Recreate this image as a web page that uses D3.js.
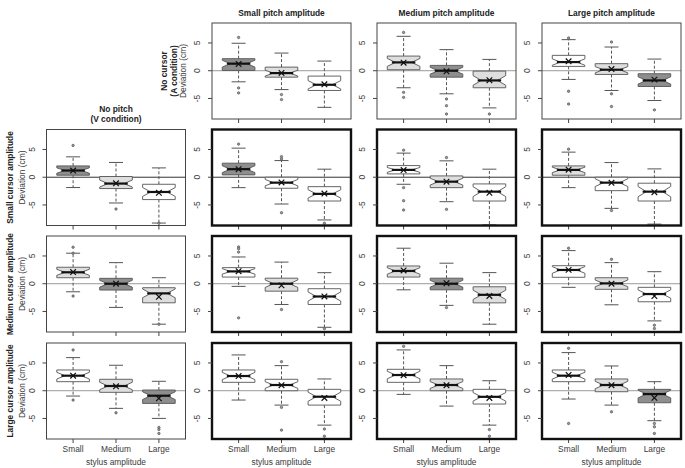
<!DOCTYPE html>
<html><head><meta charset="utf-8">
<script src="https://cdn.jsdelivr.net/npm/d3@7"></script>
<style>body{margin:0;background:#fff}svg{display:block;font-family:"Liberation Sans",Arial,sans-serif}</style>
</head><body><svg id="c" width="685" height="468"></svg>
<script>
// ---- data ----
const stylusLevels = ["Small", "Medium", "Large"];
const pitchTitles = ["Small pitch amplitude", "Medium pitch amplitude", "Large pitch amplitude"];
const cursorTitles = ["Small cursor amplitude", "Medium cursor amplitude", "Large cursor amplitude"];
const yTicks = [-5, 0, 5];
const nObs = 30;
// panel grid positions (row, column) for 15 panels
const panelRow = [0,0,0, 1,1,1,1, 2,2,2,2, 3,3,3,3];
const panelCol = [1,2,3, 0,1,2,3, 0,1,2,3, 0,1,2,3];
const whiskerLow = [
  [-2.0,-3.4,-6.6],[-3.07,-4.16,-6.7],[-1.57,-3.56,-5.37],
  [-1.86,-4.64,-8.26],[-1.88,-4.83,-7.7],[-1.27,-4.41,-8.6],[-1.88,-5.61,-8.45],
  [-1.45,-4.27,-7.29],[-0.48,-3.74,-7.85],[-1.1,-3.9,-7.3],[-0.65,-3.8,-6.7],
  [-0.96,-3.18,-4.99],[-1.68,-2.59,-6.2],[-0.66,-2.77,-6.2],[-1.5,-2.59,-5.4]];
const q1 = [
  [0.05,-1.16,-3.56],[0.18,-1.16,-3.07],[0.78,-0.67,-2.84],
  [0.36,-2.04,-4.03],[0.42,-1.99,-4.29],[0.6,-1.88,-4.29],[0.36,-2.42,-4.29],
  [1.08,-1.14,-3.44],[1.2,-1.34,-3.74],[1.2,-1.1,-3.45],[1.16,-1.01,-3.25],
  [1.63,-0.29,-2.28],[1.51,0,-2.59],[1.51,0,-2.4],[1.63,-0.18,-2.17]];
const median = [
  [1.27,-0.43,-2.53],[1.5,0,-1.75],[1.56,0.18,-1.75],
  [1.21,-1.14,-2.66],[1.45,-0.98,-3.0],[1.32,-0.8,-2.6],[1.32,-0.98,-2.6],
  [2.06,0,-1.74],[2.22,0,-2.3],[2.3,0,-2.0],[2.48,0.06,-1.86],
  [2.71,0.85,-0.9],[2.65,1.03,-1.08],[2.83,1.03,-1.1],[2.71,1.03,-0.6]];
const q3 = [
  [2.17,0.65,-0.97],[2.64,0.96,-0.07],[2.77,1.27,-0.54],
  [2.04,0.13,-1.27],[2.53,0,-1.7],[2.1,0.24,-1.21],[2.04,0,-1.08],
  [2.97,0.97,-0.72],[2.9,1.0,-0.9],[3.2,1.0,-0.55],[3.25,1.08,-0.65],
  [3.74,2.06,0.13],[3.74,2.06,0.25],[3.86,2.12,0.25],[3.74,2.12,0.25]];
const whiskerHigh = [
  [4.95,3.18,1.74],[6.2,3.8,2.04],[5.6,4.27,2.1],
  [3.67,2.66,1.68],[5.24,3.0,1.45],[4.34,2.95,1.45],[4.52,2.64,1.5],
  [5.5,3.8,1.08],[4.82,3.9,1.99],[6.4,3.7,2.0],[5.97,3.8,2.17],
  [5.97,4.59,1.7],[6.45,4.52,2.12],[7.35,4.52,1.8],[6.87,4.46,1.63]];
const means = [
  [1.2,-0.4,-2.45],[1.45,-0.1,-1.7],[1.7,0.3,-1.6],
  [1.2,-1.1,-2.8],[1.45,-0.95,-2.95],[1.3,-0.8,-2.8],[1.35,-1.0,-2.7],
  [2.1,0,-2.35],[2.25,-0.3,-2.3],[2.4,0.1,-2.2],[2.5,0,-2.22],
  [2.7,0.8,-1.37],[2.65,1.0,-1.3],[2.8,1.0,-1.3],[2.85,1.0,-1.27]];
const outliers = [
  [[6.0,-3.1,-4.0],[-4.3,-5.2],[]],
  [[6.9,-3.9,-4.8],[-5.1,-6.3,-7.8],[-7.8]],
  [[5.9,-3.7,-6.0],[5.17,-4.16,-6.46],[-7.06]],
  [[5.73],[-5.73],[-8.3]],
  [[5.97],[3.72,3.3,-6.4],[-8.3]],
  [[4.88,-1.88,-4.23,-5.91],[3.55,-5.79],[]],
  [[5.06],[-6.0],[]],
  [[6.58,5.5,-2.22],[],[-7.3]],
  [[6.63,6.3,5.7,-6.15],[-4.65],[-8.1]],
  [[],[-4.3],[]],
  [[6.4],[4.4],[-7.47,-8.07]],
  [[7.35,-1.68],[-3.98],[-6.62,-6.98,-7.7]],
  [[],[5.24,-3.0,-7.1],[-6.9,-8.2]],
  [[8.0],[],[-7.0,-8.2]],
  [[7.65,-5.9],[-3.8],[-5.9,-6.5,-7.7]]];
// fill level: 0 white, 1 light grey, 2 dark grey
const fillLevel = [
  [2,1,0],[1,2,1],[0,1,2],
  [2,1,0],[2,0,0],[0,1,0],[1,0,0],
  [1,2,1],[0,1,0],[1,2,1],[0,1,0],
  [0,1,2],[0,0,0],[0,1,0],[0,1,2]];

// ---- layout ----
const fillColors = ["#ffffff", "#dedede", "#8e8e8e"];
const colLeft = [46.5, 212, 377, 542];
const rowTop = [23, 129.5, 236, 343];
const pw = 139, ph = 96;
const svg = d3.select("#c");
const textCol = "#3a3a3a";

panelRow.forEach((r, p) => {
  const c = panelCol[p];
  const L = colLeft[c], T = rowTop[r];
  const x = d3.scaleLinear().domain([0.38, 3.62]).range([L, L + pw]);
  const y = d3.scaleLinear().domain([-8.7, 8.6]).range([T + ph, T]);
  const g = svg.append("g");
  const inner = r > 0 && c > 0;

  g.append("line").attr("x1", L).attr("x2", L + pw).attr("y1", y(0)).attr("y2", y(0))
    .attr("stroke", r === 1 ? "#333" : "#999").attr("stroke-width", 1);

  const hw = x(1.38) - x(1);
  [0,1,2].forEach(i => {
    const cx = x(i + 1);
    const lo = q1[p][i], hi = q3[p][i], md = median[p][i];
    const nh = 1.58 * (hi - lo) / Math.sqrt(nObs);
    const nLo = Math.max(lo, md - nh), nHi = Math.min(hi, md + nh);
    g.append("line").attr("x1", cx).attr("x2", cx).attr("y1", y(hi)).attr("y2", y(whiskerHigh[p][i]))
      .attr("stroke", "#555").attr("stroke-dasharray", "3,2");
    g.append("line").attr("x1", cx).attr("x2", cx).attr("y1", y(lo)).attr("y2", y(whiskerLow[p][i]))
      .attr("stroke", "#555").attr("stroke-dasharray", "3,2");
    [whiskerHigh[p][i], whiskerLow[p][i]].forEach(v => {
      g.append("line").attr("x1", cx - 7).attr("x2", cx + 7).attr("y1", y(v)).attr("y2", y(v))
        .attr("stroke", "#555");
    });
    const pts = [
      [cx - hw, y(lo)], [cx + hw, y(lo)], [cx + hw, y(nLo)], [cx + hw / 2, y(md)], [cx + hw, y(nHi)],
      [cx + hw, y(hi)], [cx - hw, y(hi)], [cx - hw, y(nHi)], [cx - hw / 2, y(md)], [cx - hw, y(nLo)]];
    g.append("path").attr("d", d3.line()(pts) + "Z")
      .attr("fill", fillColors[fillLevel[p][i]]).attr("stroke", "#555").attr("stroke-width", 0.9);
    g.append("line").attr("x1", cx - hw * 0.72).attr("x2", cx + hw * 0.72).attr("y1", y(md)).attr("y2", y(md))
      .attr("stroke", "#111").attr("stroke-width", 2.2);
    const my = y(means[p][i]), s = 2.8;
    g.append("path").attr("d", `M${cx - s},${my - s}L${cx + s},${my + s}M${cx - s},${my + s}L${cx + s},${my - s}`)
      .attr("stroke", "#111").attr("stroke-width", 1.2).attr("fill", "none");
    outliers[p][i].forEach(v => {
      g.append("circle").attr("cx", cx).attr("cy", y(v)).attr("r", 1.2)
        .attr("fill", "#999").attr("stroke", "#555").attr("stroke-width", 0.7);
    });
    g.append("line").attr("x1", cx).attr("x2", cx).attr("y1", T + ph).attr("y2", T + ph + 4)
      .attr("stroke", "#444");
  });

  g.append("rect").attr("x", L).attr("y", T).attr("width", pw).attr("height", ph)
    .attr("fill", "none").attr("stroke", inner ? "#111" : "#444").attr("stroke-width", inner ? 2.4 : 1);

  yTicks.forEach(t => {
    g.append("line").attr("x1", L - 4).attr("x2", L).attr("y1", y(t)).attr("y2", y(t)).attr("stroke", "#444");
    g.append("text").attr("transform", `translate(${L - 12},${y(t)}) rotate(-90)`)
      .attr("text-anchor", "middle").attr("font-size", 8.5).attr("fill", textCol).text(t);
  });

  if (r === 3) {
    stylusLevels.forEach((s, i) => {
      g.append("text").attr("x", x(i + 1)).attr("y", T + ph + 13).attr("text-anchor", "middle")
        .attr("font-size", 8.4).attr("fill", textCol).text(s);
    });
    g.append("text").attr("x", L + pw / 2).attr("y", T + ph + 26).attr("text-anchor", "middle")
      .attr("font-size", 8.4).attr("fill", textCol).text("stylus amplitude");
  }
  if (r === 0) {
    g.append("text").attr("x", L + pw / 2).attr("y", 16).attr("text-anchor", "middle")
      .attr("font-size", 8.4).attr("font-weight", "bold").attr("fill", "#222").text(pitchTitles[c - 1]);
  }
  if (c === 0) {
    const cy = T + ph / 2;
    g.append("text").attr("transform", `translate(25,${cy}) rotate(-90)`).attr("text-anchor", "middle")
      .attr("font-size", 8.4).attr("fill", textCol).text("Deviation (cm)");
    g.append("text").attr("transform", `translate(13,${cy}) rotate(-90)`).attr("text-anchor", "middle")
      .attr("font-size", 8.4).attr("font-weight", "bold").attr("fill", "#222").text(cursorTitles[r - 1]);
    if (r === 1) {
      g.append("text").attr("x", L + pw / 2).attr("y", 112).attr("text-anchor", "middle")
        .attr("font-size", 8.4).attr("font-weight", "bold").attr("fill", "#222").text("No pitch");
      g.append("text").attr("x", L + pw / 2).attr("y", 122).attr("text-anchor", "middle")
        .attr("font-size", 8.4).attr("font-weight", "bold").attr("fill", "#222").text("(V condition)");
    }
  }
  if (r === 0 && c === 1) {
    const cy = T + ph / 2;
    g.append("text").attr("transform", `translate(186,${cy}) rotate(-90)`).attr("text-anchor", "middle")
      .attr("font-size", 8.4).attr("fill", textCol).text("Deviation (cm)");
    g.append("text").attr("transform", `translate(177,${cy}) rotate(-90)`).attr("text-anchor", "middle")
      .attr("font-size", 8.4).attr("font-weight", "bold").attr("fill", "#222").text("(A condition)");
    g.append("text").attr("transform", `translate(167,${cy}) rotate(-90)`).attr("text-anchor", "middle")
      .attr("font-size", 8.4).attr("font-weight", "bold").attr("fill", "#222").text("No cursor");
  }
});
</script></body></html>
